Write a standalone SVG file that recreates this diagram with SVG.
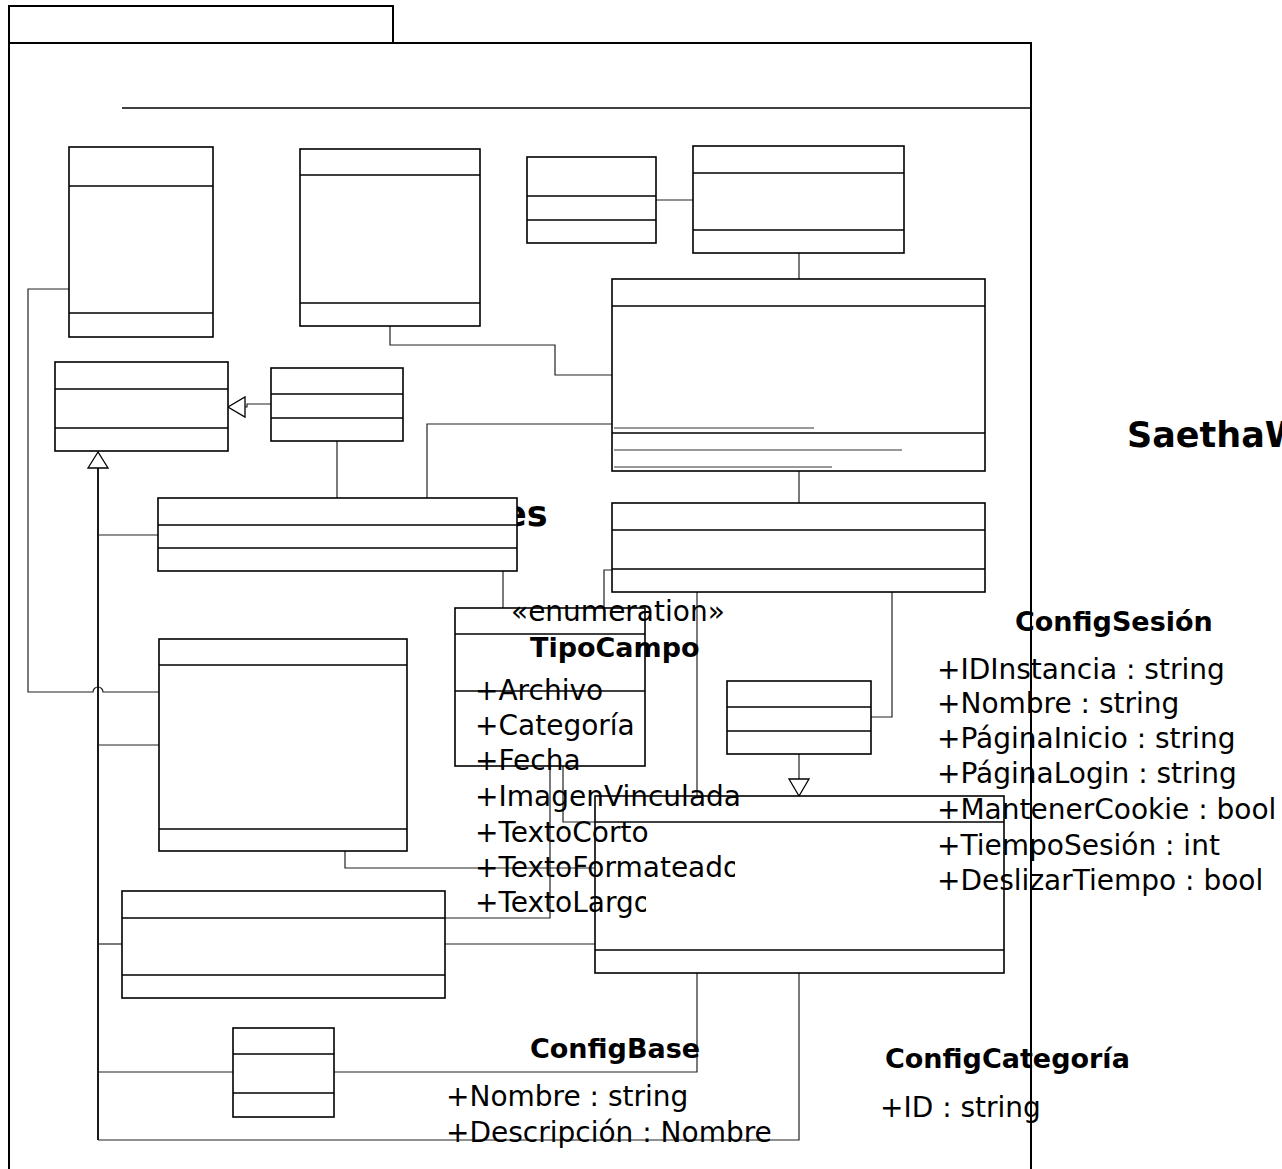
<svg xmlns="http://www.w3.org/2000/svg" width="1282" height="1169" viewBox="0 0 1282 1169">
<style>
.frame{fill:#fff;stroke:#000;stroke-width:2}
.box rect{fill:#fff;stroke:#000;stroke-width:1.6}
.box line{stroke:#000;stroke-width:1.6}
.box .ul{stroke:#333;stroke-width:1.2}
.conn path{fill:none;stroke:#222;stroke-width:1.2}
.conn .trunk{stroke:#000;stroke-width:1.8}
.conn polygon{fill:#fff;stroke:#000;stroke-width:1.3}
text{font-family:"DejaVu Sans","Liberation Sans",sans-serif;fill:#000}
.t{font-size:28px}
.b{font-size:27px;font-weight:bold}
.big{font-size:35px;font-weight:bold}
</style>
<defs>
<clipPath id="cf"><rect x="400" y="840" width="335" height="50"/></clipPath>
<clipPath id="cl"><rect x="400" y="880" width="246" height="45"/></clipPath>
</defs>
<g id="package">
<rect class="frame" x="9" y="6" width="384" height="37"/>
<rect class="frame" x="9" y="43" width="1022" height="1150"/>
<line x1="122" y1="108" x2="1031" y2="108" stroke="#000" stroke-width="1.6"/>
<text class="big" x="503" y="526">es</text>
<text class="big" x="1127" y="447">SaethaW</text>
</g>
<g id="connectors" class="conn">
<path d="M656,200 H693"/>
<path d="M799,253 V279"/>
<path d="M390,326 V345 H555 V375 H612"/>
<path d="M427,498 V424 H612"/>
<path d="M799,471 V503"/>
<path d="M337,441 V498"/>
<path d="M271,404 H247 V407 H245"/>
<polygon points="228,407 245,397 245,417"/>
<path d="M503,571 V608"/>
<path d="M612,570 H604 V608"/>
<path d="M697,592 V796"/>
<path d="M892,592 V717 H871"/>
<path d="M799,754 V779"/>
<polygon points="799,796 789,779 809,779"/>
<path d="M69,289 H28 V692 H93 A5,5 0 0 1 103,692 H159"/>
<path class="trunk" d="M98,468 V1140"/>
<path d="M98,1140 H799 V973"/>
<polygon points="98,452 88,468 108,468"/>
<path d="M98,535 H158"/>
<path d="M98,745 H159"/>
<path d="M98,944 H122"/>
<path d="M98,1072 H233"/>
<path d="M334,1072 H697 V973"/>
<path d="M345,851 V868 H595"/>
<path d="M445,944 H595"/>
<path d="M550,766 V918 H445"/>
<path d="M563,766 V822 H595"/>
</g>
<g id="nodeA" class="box"><rect x="69" y="147" width="144" height="190"/><line x1="69" y1="186" x2="213" y2="186"/><line x1="69" y1="313" x2="213" y2="313"/></g>
<g id="nodeB" class="box"><rect x="300" y="149" width="180" height="177"/><line x1="300" y1="175" x2="480" y2="175"/><line x1="300" y1="303" x2="480" y2="303"/></g>
<g id="nodeC" class="box"><rect x="527" y="157" width="129" height="86"/><line x1="527" y1="196" x2="656" y2="196"/><line x1="527" y1="220" x2="656" y2="220"/></g>
<g id="nodeD" class="box"><rect x="693" y="146" width="211" height="107"/><line x1="693" y1="173" x2="904" y2="173"/><line x1="693" y1="230" x2="904" y2="230"/></g>
<g id="nodeE" class="box"><rect x="612" y="279" width="373" height="192"/><line x1="612" y1="306" x2="985" y2="306"/><line x1="612" y1="433" x2="985" y2="433"/><line class="ul" x1="614" y1="428" x2="814" y2="428"/><line class="ul" x1="614" y1="450" x2="902" y2="450"/><line class="ul" x1="614" y1="467" x2="832" y2="467"/></g>
<g id="nodeF" class="box"><rect x="612" y="503" width="373" height="89"/><line x1="612" y1="530" x2="985" y2="530"/><line x1="612" y1="569" x2="985" y2="569"/></g>
<g id="nodeK" class="box"><rect x="55" y="362" width="173" height="89"/><line x1="55" y1="389" x2="228" y2="389"/><line x1="55" y1="428" x2="228" y2="428"/></g>
<g id="nodeL" class="box"><rect x="271" y="368" width="132" height="73"/><line x1="271" y1="394" x2="403" y2="394"/><line x1="271" y1="418" x2="403" y2="418"/></g>
<g id="nodeG" class="box"><rect x="158" y="498" width="359" height="73"/><line x1="158" y1="525" x2="517" y2="525"/><line x1="158" y1="548" x2="517" y2="548"/></g>
<g id="TipoCampo" class="box"><rect x="455" y="608" width="190" height="158"/><line x1="455" y1="634" x2="645" y2="634"/><line x1="455" y1="691" x2="645" y2="691"/></g>
<g id="nodeM" class="box"><rect x="159" y="639" width="248" height="212"/><line x1="159" y1="665" x2="407" y2="665"/><line x1="159" y1="829" x2="407" y2="829"/></g>
<g id="nodeI" class="box"><rect x="727" y="681" width="144" height="73"/><line x1="727" y1="707" x2="871" y2="707"/><line x1="727" y1="731" x2="871" y2="731"/></g>
<g id="nodeH" class="box"><rect x="595" y="796" width="409" height="177"/><line x1="595" y1="822" x2="1004" y2="822"/><line x1="595" y1="950" x2="1004" y2="950"/></g>
<g id="nodeN" class="box"><rect x="122" y="891" width="323" height="107"/><line x1="122" y1="918" x2="445" y2="918"/><line x1="122" y1="975" x2="445" y2="975"/></g>
<g id="nodeJ" class="box"><rect x="233" y="1028" width="101" height="89"/><line x1="233" y1="1054" x2="334" y2="1054"/><line x1="233" y1="1093" x2="334" y2="1093"/></g>
<g id="labels-TipoCampo">
<text class="t" x="511" y="621">«enumeration»</text>
<text class="b" x="530" y="657">TipoCampo</text>
<text class="t" x="475" y="700">+Archivo</text>
<text class="t" x="475" y="735">+Categoría</text>
<text class="t" x="475" y="770">+Fecha</text>
<text class="t" x="475" y="806">+ImagenVinculada</text>
<text class="t" x="475" y="842">+TextoCorto</text>
<text class="t" x="475" y="877" clip-path="url(#cf)">+TextoFormateado</text>
<text class="t" x="475" y="912" clip-path="url(#cl)">+TextoLargo</text>
</g>
<g id="labels-ConfigSesion">
<text class="b" x="1015" y="631">ConfigSesión</text>
<text class="t" x="937" y="679">+IDInstancia : string</text>
<text class="t" x="937" y="713">+Nombre : string</text>
<text class="t" x="937" y="748">+PáginaInicio : string</text>
<text class="t" x="937" y="783">+PáginaLogin : string</text>
<text class="t" x="937" y="819">+MantenerCookie : bool</text>
<text class="t" x="937" y="855">+TiempoSesión : int</text>
<text class="t" x="937" y="890">+DeslizarTiempo : bool</text>
</g>
<g id="labels-ConfigBase">
<text class="b" x="530" y="1058">ConfigBase</text>
<text class="t" x="446" y="1106">+Nombre : string</text>
<text class="t" x="446" y="1142">+Descripción : Nombre</text>
</g>
<g id="labels-ConfigCategoria">
<text class="b" x="885" y="1068">ConfigCategoría</text>
<text class="t" x="880" y="1117">+ID : string</text>
</g>
</svg>
